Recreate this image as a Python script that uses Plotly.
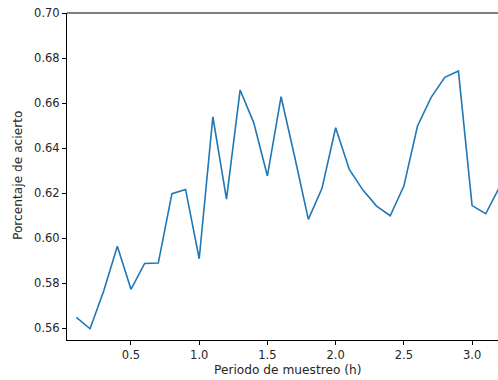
import plotly.graph_objects as go

periodo = [0.1, 0.2, 0.3, 0.4, 0.5, 0.6, 0.7, 0.8, 0.9, 1.0, 1.1, 1.2, 1.3, 1.4, 1.5, 1.6,
           1.7, 1.8, 1.9, 2.0, 2.1, 2.2, 2.3, 2.4, 2.5, 2.6, 2.7, 2.8, 2.9, 3.0, 3.1, 3.2]
acierto = [0.5647, 0.5597, 0.5765, 0.5964, 0.5772, 0.5887, 0.5889, 0.6197, 0.6216, 0.5908,
           0.6539, 0.6173, 0.6658, 0.6512, 0.6276, 0.6628, 0.6360, 0.6083, 0.6221, 0.6490,
           0.6305, 0.6213, 0.6142, 0.6099, 0.6231, 0.6498, 0.6625, 0.6714, 0.6742, 0.6144,
           0.6108, 0.6225]
x_ticks = [0.5, 1.0, 1.5, 2.0, 2.5, 3.0]
y_ticks = [0.56, 0.58, 0.60, 0.62, 0.64, 0.66, 0.68, 0.70]

tick_font = dict(family="DejaVu Sans", size=11.5, color="#262626")
title_font = dict(family="DejaVu Sans", size=12.2, color="#262626")

fig = go.Figure()
fig.add_trace(go.Scatter(x=periodo, y=acierto, mode="lines",
                         line=dict(color="#1f77b4", width=1.6), showlegend=False))

fig.update_layout(
    width=498, height=380,
    margin=dict(l=67, r=0, t=13, b=40),
    paper_bgcolor="white", plot_bgcolor="white",
    font=tick_font,
    xaxis=dict(range=[0.031, 3.19], tickvals=x_ticks, ticktext=[f"{v:.1f}" for v in x_ticks],
               showgrid=False, zeroline=False, showline=True, linecolor="black", linewidth=1,
               ticks="outside", ticklen=4, tickcolor="black", tickwidth=1, tickfont=tick_font),
    yaxis=dict(range=[0.5547, 0.70], tickvals=y_ticks, ticktext=[f"{v:.2f}" for v in y_ticks],
               showgrid=False, zeroline=False, showline=True, linecolor="black", linewidth=1,
               ticks="outside", ticklen=4, tickcolor="black", tickwidth=1, tickfont=tick_font),
    shapes=[dict(type="line", xref="paper", yref="paper", x0=0, x1=1, y0=1, y1=1,
                 line=dict(color="#555555", width=1.5))],
    annotations=[
        dict(text="Periodo de muestreo (h)", xref="paper", yref="paper",
             x=(287 - 67) / 431, y=-(370 - 340) / 327, showarrow=False,
             xanchor="center", yanchor="middle", font=title_font),
        dict(text="Porcentaje de acierto", xref="paper", yref="paper",
             x=-(67 - 18) / 431, y=(340 - 176) / 327, showarrow=False, textangle=-90,
             xanchor="center", yanchor="middle", font=title_font),
    ],
)

fig.write_html("out.html")
